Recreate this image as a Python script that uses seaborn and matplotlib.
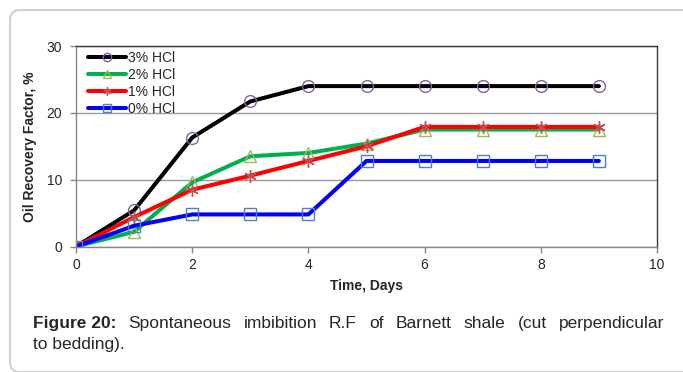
import matplotlib
matplotlib.use("Agg")
import matplotlib.pyplot as plt
import seaborn as sns
import pandas as pd
from matplotlib.patches import FancyBboxPatch
from matplotlib.transforms import IdentityTransform

# Spontaneous imbibition oil recovery vs. time for different HCl concentrations
days = [0, 1, 2, 3, 4, 5, 6, 7, 8, 9]
rf_3pct = [0, 5.4, 16.3, 21.7, 24.0, 24.0, 24.0, 24.0, 24.0, 24.0]
rf_2pct = [0, 2.2, 9.6, 13.5, 14.0, 15.4, 17.5, 17.5, 17.5, 17.5]
rf_1pct = [0, 4.4, 8.5, 10.6, 12.8, 15.0, 17.9, 17.9, 17.9, 17.9]
rf_0pct = [0, 3.1, 4.8, 4.8, 4.8, 12.8, 12.8, 12.8, 12.8, 12.8]
series_labels = ["3% HCl", "2% HCl", "1% HCl", "0% HCl"]
x_ticks = [0, 2, 4, 6, 8, 10]
y_ticks = [0, 10, 20, 30]
caption_head = "Figure 20:"
caption_line1 = "Spontaneous imbibition R.F of Barnett shale (cut perpendicular"
caption_line2 = "to bedding)."

sns.set_style("white")
plt.rcParams["font.family"] = ["Liberation Sans", "DejaVu Sans"]

df = pd.DataFrame({
    "day": days * 4,
    "rf": rf_3pct + rf_2pct + rf_1pct + rf_0pct,
    "series": sum([[s] * len(days) for s in series_labels], []),
})

styles = {
    "3% HCl": dict(color="#000000", marker="o", mec="#8064A2", ms=8.5),
    "2% HCl": dict(color="#00B050", marker="^", mec="#9BBB59", ms=8.5),
    "1% HCl": dict(color="#FF0000", marker=(6, 2, 0), mec="#C0504D", ms=9),
    "0% HCl": dict(color="#0000FF", marker="s", mec="#4F81BD", ms=8),
}

W, H = 683, 372
fig = plt.figure(figsize=(W / 100, H / 100), dpi=100)
ax = fig.add_axes([76 / W, 1 - 246.5 / H, 581 / W, 200.5 / H])

for name in series_labels:
    st = styles[name]
    sub = df[df["series"] == name]
    sns.lineplot(data=sub, x="day", y="rf", ax=ax, color=st["color"], lw=2.9,
                 marker=st["marker"], markersize=st["ms"], markerfacecolor="none",
                 markeredgecolor=st["mec"], markeredgewidth=1.0, label=name)

ax.set_xlim(0, 10)
ax.set_ylim(0, 30)
ax.set_xticks(x_ticks)
ax.set_yticks(y_ticks)
ax.yaxis.grid(True, color="#9a9a9a", lw=1.0)
ax.set_axisbelow(True)
ax.tick_params(axis="both", labelsize=10, length=4, width=1, color="#868686",
               direction="out", bottom=True, left=True)
ax.tick_params(axis="y", pad=6)
ax.tick_params(axis="x", pad=4)
for side in ("left", "bottom"):
    ax.spines[side].set_color("#868686")
    ax.spines[side].set_linewidth(1.0)
for side in ("top", "right"):
    ax.spines[side].set_color("#3a3a3a")
    ax.spines[side].set_linewidth(1.0)

ax.set_xlabel("Time, Days", fontsize=10, fontweight="bold", labelpad=5)
ax.set_ylabel("Oil Recovery Factor, %", fontsize=10, fontweight="bold", labelpad=7)

leg = ax.legend(loc="upper left", frameon=False, fontsize=10, handlelength=2.7,
                handletextpad=0.15, labelspacing=0.21, borderaxespad=0.0,
                borderpad=0.0, bbox_to_anchor=(12 / 581, 1 - 5 / 200.5))
for h in leg.legend_handles:
    h.set_markersize(6)

# Rounded border around the figure panel
frame = FancyBboxPatch((18, 8), 675, 346, boxstyle="round,pad=8,rounding_size=10",
                       transform=IdentityTransform(), fill=False,
                       edgecolor="#c8c8c8", lw=1.2)
fig.patches.append(frame)

# Figure caption: first line justified across the text block
cap_family = ["Liberation Sans"]
cap_size = 12.5
left_px, right_px = 33, 664
base1 = 1 - 328 / H
base2 = 1 - 349 / H
renderer = fig.canvas.get_renderer()

head = fig.text(left_px / W, base1, caption_head, fontsize=cap_size, fontweight="bold",
                va="baseline", ha="left", family=cap_family)
words = caption_line1.split()
word_artists = [fig.text(0, base1, w, fontsize=cap_size, va="baseline", ha="left",
                         family=cap_family) for w in words]
head_w = head.get_window_extent(renderer).width
widths = [a.get_window_extent(renderer).width for a in word_artists]
gap = (right_px - left_px - head_w - sum(widths)) / len(words)
x = left_px + head_w + gap
for a, w in zip(word_artists, widths):
    a.set_x(x / W)
    x += w + gap

fig.text(left_px / W, base2, caption_line2, fontsize=cap_size, va="baseline",
         ha="left", family=cap_family)

fig.savefig("out.png", dpi=100)
